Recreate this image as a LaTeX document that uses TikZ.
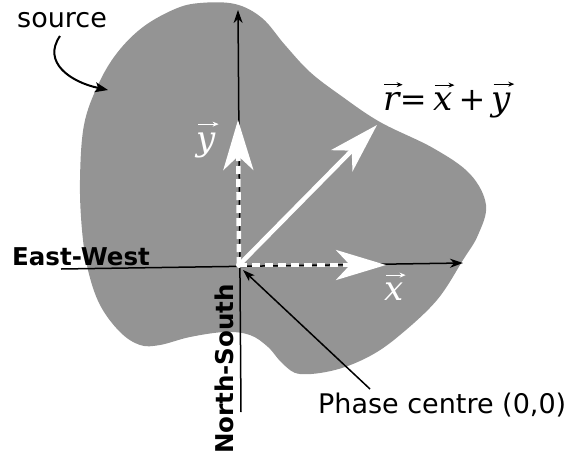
\documentclass[tikz,border=0pt]{standalone}
\usepackage{fontspec}
\setmainfont{DejaVu Sans}
\newfontfamily\opfont{DejaVu Serif}
\newfontfamily\itfont{DejaVu Serif}
\usetikzlibrary{arrows.meta}
\definecolor{blobgray}{RGB}{148,148,148}
\tikzset{
  axisline/.style={black, line width=1.5pt, -{Stealth[length=13pt,width=9pt,inset=4pt]}},
  whitevec/.style={white, line width=4.5pt, -{Stealth[length=50pt,width=30pt,inset=14pt]}},
  dashvec/.style={whitevec, dash pattern=on 8pt off 5pt},
  pointer/.style={black, line width=1.5pt, -{Stealth[length=12pt,width=8pt,inset=3pt]}},
  lbl/.style={font=\fontsize{27}{32}\selectfont, inner sep=0pt},
  boldlbl/.style={font=\fontsize{24.5}{29}\selectfont\bfseries, inner sep=0pt},
  mathlbl/.style={font=\fontsize{34}{40}\selectfont\itfont\itshape, inner sep=0pt, anchor=base west},
  oplbl/.style={font=\fontsize{32}{38}\selectfont\opfont, inner sep=0pt, anchor=base west},
  vecarr/.style={line width=1.3pt, -{Stealth[length=6pt,width=5pt]}}
}
\begin{document}
\begin{tikzpicture}[x=1pt,y=-1pt]
\useasboundingbox (0,0) rectangle (571,461);
% source region
\fill[blobgray] plot[smooth cycle, tension=0.6] coordinates {
 (200,3) (235,4) (262,18) (285,45) (310,72) (340,95) (380,122) (433,148)
 (470,174) (486,205) (478,235) (463,260) (437,300) (400,335) (370,356)
 (335,370) (300,374) (283,364) (268,347) (250,335) (225,332) (190,337)
 (160,345) (140,345) (120,332) (100,305) (88,270) (82,230) (80,180)
 (84,125) (98,85) (117,53) (143,27) (175,9)};
% coordinates
\coordinate (O) at (239,265);
\coordinate (ewL) at (61,269);
\coordinate (ewR) at (463,263);
\coordinate (nsB) at (241,412);
\coordinate (nsT) at (238,10);
\coordinate (ytip) at (238,120);
\coordinate (xtip) at (386,265);
\coordinate (rtip) at (377,125);
\coordinate (srcS) at (60,36);
\coordinate (srcE) at (108,90);
\coordinate (phS) at (370,389);
\coordinate (phE) at (243,270);
% axes
\draw[axisline] (ewL) -- (ewR);
\draw[axisline] (nsB) -- (nsT);
% vectors
\draw[dashvec] (O) -- (ytip);
\draw[dashvec] (O) -- (xtip);
\draw[whitevec] (O) -- (rtip);
\fill[white] (O) circle (3pt);
% labels
\node[lbl, anchor=base west] (src) at (17,27) {source};
\draw[black, line width=2pt, -{Stealth[length=13pt,width=10pt,inset=3pt]}] (srcS) .. controls (42,62) and (70,82) .. (srcE);
\node[boldlbl, anchor=base west] (ew) at (12,265) {East-West};
\node[boldlbl, anchor=base, rotate=90] (ns) at (233,369) {North-South};
\node[lbl, anchor=base west] (ph) at (318,413) {Phase centre (0,0)};
\draw[pointer] (phS) -- (phE);
% vector labels
\node[mathlbl, white] (ylab) at (196,150) {y};
\draw[vecarr, white] ([xshift=2pt,yshift=8pt]ylab.north west) -- ([xshift=3pt,yshift=8pt]ylab.north east);
\node[mathlbl, white] (xlab) at (384,300) {x};
\draw[vecarr, white] ([xshift=2pt,yshift=7pt]xlab.north west) -- ([xshift=2pt,yshift=7pt]xlab.north east);
\node[mathlbl] (rr) at (383,110) {r};
\node[oplbl] (eq) at ([xshift=0pt]rr.base east) {=};
\node[mathlbl] (rx) at ([xshift=6pt]eq.base east) {x};
\node[oplbl] (pl) at ([xshift=6pt]rx.base east) {+};
\node[mathlbl] (ry) at ([xshift=6pt]pl.base east) {y};
\draw[vecarr] ([xshift=1pt,yshift=7pt]rr.north west) -- ([xshift=3pt,yshift=7pt]rr.north east);
\draw[vecarr] ([xshift=2pt,yshift=7pt]rx.north west) -- ([xshift=2pt,yshift=7pt]rx.north east);
\draw[vecarr] ([xshift=2pt,yshift=8pt]ry.north west) -- ([xshift=3pt,yshift=8pt]ry.north east);
\end{tikzpicture}
\end{document}
